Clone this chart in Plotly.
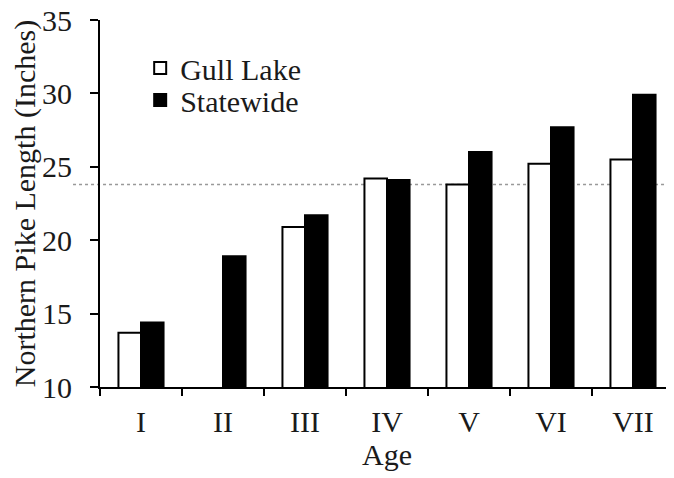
import plotly.graph_objects as go

ages = ["I", "II", "III", "IV", "V", "VI", "VII"]
gull_lake = [13.7, None, 20.9, 24.2, 23.8, 25.2, 25.5]
statewide = [14.4, 18.9, 21.7, 24.1, 26.0, 27.7, 29.9]
series_names = ["Gull Lake", "Statewide"]
reference_line = 23.8

font_family = "Liberation Serif"
fs = 30
txt = "#1a1a1a"

fig = go.Figure()
fig.add_trace(go.Bar(
    x=ages, y=gull_lake, name=series_names[0], legend="legend",
    marker=dict(color="white", line=dict(color="black", width=2)),
))
fig.add_trace(go.Bar(
    x=ages, y=statewide, name=series_names[1], legend="legend2",
    marker=dict(color="black", line=dict(color="black", width=2)),
))

fig.add_shape(type="line", xref="paper", yref="y",
              x0=-0.047, x1=1, y0=reference_line, y1=reference_line,
              line=dict(color="#999999", width=1.5, dash="3px,3px"), layer="below")

leg_common = dict(xanchor="left", yanchor="middle", bgcolor="rgba(0,0,0,0)",
                  itemwidth=30, borderwidth=0,
                  font=dict(size=fs, family=font_family, color=txt))

fig.update_layout(
    width=674, height=478,
    margin=dict(l=92, r=8, t=12, b=99, autoexpand=False),
    paper_bgcolor="white", plot_bgcolor="white",
    barmode="group", bargap=0.45, bargroupgap=0.0,
    font=dict(family=font_family, size=fs, color=txt),
    showlegend=True,
    legend=dict(x=0.07, y=0.869, **leg_common),
    legend2=dict(x=0.07, y=0.782, **leg_common),
    xaxis=dict(
        type="category", range=[-0.5, 6.5], automargin=False,
        showline=True, linecolor="black", linewidth=2,
        ticks="outside", tickson="boundaries", ticklen=7, tickwidth=2, tickcolor="black",
        showgrid=False, zeroline=False,
        ticklabelstandoff=7,
        title=dict(text="Age", standoff=6, font=dict(size=fs, family=font_family, color=txt)),
        tickfont=dict(size=fs, family=font_family, color=txt),
    ),
    yaxis=dict(
        range=[10, 35], dtick=5, tick0=10, automargin=False,
        showline=True, linecolor="black", linewidth=2,
        ticks="outside", ticklen=8, tickwidth=2, tickcolor="black",
        showgrid=False, zeroline=False,
        ticklabelstandoff=12, ticklabeloverflow="allow",
        title=dict(text="Northern Pike Length (Inches)", standoff=3,
                   font=dict(size=fs, family=font_family, color=txt)),
        tickfont=dict(size=fs, family=font_family, color=txt),
    ),
)

fig.write_html("out.html")
